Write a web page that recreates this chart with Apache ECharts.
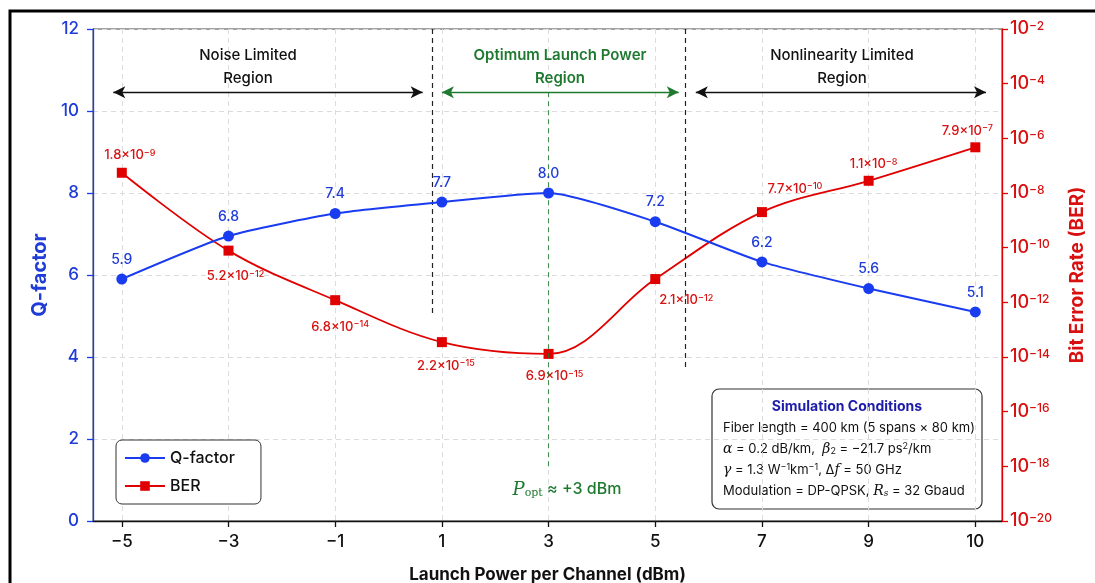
<!DOCTYPE html>
<html>
<head>
<meta charset="utf-8">
<script src="https://cdn.jsdelivr.net/npm/echarts@6/dist/echarts.min.js"></script>
<style>
  html, body { margin: 0; padding: 0; background: #fff; }
  #chart { width: 1095px; height: 583px; }
</style>
</head>
<body>
<div id="chart"></div>
<script>
// x axis: launch power per channel (dBm), drawn as evenly spaced ticks
const powerLabels = ['-5', '-3', '-1', '1', '3', '5', '7', '9', '10'];
// Q-factor: marker heights and the printed value labels
const qValues = [5.9, 6.95, 7.5, 7.78, 8.0, 7.3, 6.32, 5.67, 5.1];
const qLabels = ['5.9', '6.8', '7.4', '7.7', '8.0', '7.2', '6.2', '5.6', '5.1'];
// BER: marker heights (log axis) and the printed annotations (mantissa x 10^exp)
const berValues = [5.5e-8, 7.8e-11, 1.2e-12, 3.5e-14, 1.3e-14, 7.1e-12, 2.0e-9, 2.8e-8, 4.7e-7];
const berMant = ['1.8', '5.2', '6.8', '2.2', '6.9', '2.1', '7.7', '1.1', '7.9'];
const berExp = [-9, -12, -14, -15, -15, -12, -10, -8, -7];

const FONT = 'Inter, "Liberation Sans", sans-serif';
const BLUE = '#1a3cf0';
const BLUE_TXT = '#1f3bd8';
const RED = '#e00000';
const RED_TXT = '#d81010';
const GREEN = '#1f7a30';

const minus = s => String(s).replace('-', '\u2212');

// where each BER annotation sits relative to its marker
const berLabelPlace = [
  { position: 'top', distance: 6, offset: [8, 0] },
  { position: 'bottom', distance: 14, offset: [7, 0] },
  { position: 'bottom', distance: 15, offset: [5, 0] },
  { position: 'bottom', distance: 12, offset: [4, 0] },
  { position: 'bottom', distance: 11, offset: [6, 0] },
  { position: 'bottom', distance: 10, offset: [31, 0] },
  { position: 'top', distance: 12, offset: [33, 0] },
  { position: 'top', distance: 5, offset: [5, 0] },
  { position: 'top', distance: 5, offset: [-8, 0] }
];

const idx = powerLabels.map((_, i) => i);

const chart = echarts.init(document.getElementById('chart'));

const supRich = (size, color) => ({
  b: { fontSize: size, color: color, fontFamily: FONT, fontWeight: 500 },
  s: { fontSize: Math.round(size * 0.68), color: color, fontFamily: FONT, fontWeight: 500, verticalAlign: 'top' }
});

const option = {
  backgroundColor: '#fff',
  animation: false,
  textStyle: { fontFamily: FONT },
  grid: {
    left: 93, right: 93, top: 29, bottom: 62,
    outerBoundsMode: 'none', containLabel: false,
    show: true, borderColor: '#444', borderWidth: 1, backgroundColor: '#fff'
  },
  legend: {
    left: 116, top: 440, orient: 'vertical',
    itemWidth: 40, itemHeight: 12, itemGap: 12, itemTextGap: 12,
    padding: [10, 26, 10, 8],
    borderColor: '#333', borderWidth: 1, borderRadius: 6, backgroundColor: '#fff',
    textStyle: { fontSize: 16, color: '#111', fontFamily: FONT, fontWeight: 500 },
    data: ['Q-factor', 'BER'],
    z: 20
  },
  xAxis: {
    type: 'value',
    min: -0.27, max: 8.25,
    name: 'Launch Power per Channel (dBm)',
    nameLocation: 'middle', nameGap: 45,
    nameTextStyle: { fontSize: 17, fontWeight: 'bold', color: '#111', fontFamily: FONT },
    axisLine: { onZero: false, lineStyle: { color: '#111', width: 1.3 } },
    axisTick: { customValues: idx, length: 6, lineStyle: { color: '#111', width: 1.3 } },
    axisLabel: {
      customValues: idx, fontSize: 17, fontWeight: 500, color: '#111', margin: 12,
      formatter: v => minus(powerLabels[Math.round(v)])
    },
    splitLine: { show: true, lineStyle: { type: [5, 4], color: '#dcdcdc', width: 1 } }
  },
  yAxis: [
    {
      type: 'value', min: 0, max: 12, interval: 2,
      name: 'Q-factor', nameLocation: 'middle', nameGap: 43,
      nameTextStyle: { fontSize: 20, fontWeight: 'bold', color: BLUE_TXT, fontFamily: FONT },
      axisLine: { show: true, onZero: false, lineStyle: { color: BLUE, width: 1.3 } },
      axisTick: { show: true, length: 6, lineStyle: { color: BLUE, width: 1.3 } },
      axisLabel: { fontSize: 17, fontWeight: 500, color: BLUE_TXT, margin: 14 },
      splitLine: { show: true, lineStyle: { type: [5, 4], color: '#dcdcdc', width: 1 } }
    },
    {
      type: 'log', logBase: 10, min: 1e-20, max: 1e-2, interval: 2,
      name: 'Bit Error Rate (BER)', nameLocation: 'middle', nameGap: 66,
      nameRotate: 90,
      nameTextStyle: { fontSize: 19, fontWeight: 'bold', color: RED_TXT, fontFamily: FONT },
      axisLine: { show: true, onZero: false, lineStyle: { color: RED, width: 1.3 } },
      axisTick: { show: true, length: 6, lineStyle: { color: RED, width: 1.3 } },
      axisLabel: {
        margin: 8,
        formatter: v => '{b|10}{s|' + minus(Math.round(Math.log10(v))) + '}',
        rich: supRich(18, RED_TXT)
      },
      splitLine: { show: false }
    }
  ],
  series: [
    {
      name: 'Q-factor',
      type: 'line',
      yAxisIndex: 0,
      smooth: 0.2,
      symbol: 'circle', symbolSize: 11,
      z: 5,
      lineStyle: { color: BLUE, width: 2 },
      itemStyle: { color: BLUE },
      label: {
        show: true, position: 'top', distance: 7,
        fontSize: 14, fontWeight: 500, color: BLUE_TXT, fontFamily: FONT,
        formatter: p => qLabels[p.dataIndex]
      },
      data: qValues.map((q, i) => [i, q]),
      markLine: {
        silent: true, animation: false, symbol: 'none',
        label: { show: false },
        data: [
          // region boundaries
          [{ coord: [2.91, 12], lineStyle: { color: '#222', type: [5, 4], width: 1.2 } }, { coord: [2.91, 5.0] }],
          [{ coord: [5.28, 12], lineStyle: { color: '#222', type: [5, 4], width: 1.2 } }, { coord: [5.28, 3.73] }],
          // optimum launch power marker
          [{ coord: [4, 10.46], lineStyle: { color: GREEN, type: [5, 4], width: 1.1, opacity: 0.8 } }, { coord: [4, 1.24] }],
          // region arrows
          [{ coord: [-0.08, 10.46], symbol: 'arrow', symbolSize: [9, 12], lineStyle: { color: '#111', type: 'solid', width: 1.4 } },
           { coord: [2.82, 10.46], symbol: 'arrow', symbolSize: [9, 12] }],
          [{ coord: [3.0, 10.46], symbol: 'arrow', symbolSize: [9, 12], lineStyle: { color: GREEN, type: 'solid', width: 1.4 } },
           { coord: [5.22, 10.46], symbol: 'arrow', symbolSize: [9, 12] }],
          [{ coord: [5.38, 10.46], symbol: 'arrow', symbolSize: [9, 12], lineStyle: { color: '#111', type: 'solid', width: 1.4 } },
           { coord: [8.1, 10.46], symbol: 'arrow', symbolSize: [9, 12] }]
        ]
      }
    },
    {
      name: 'BER',
      type: 'line',
      yAxisIndex: 1,
      smooth: 0.35,
      symbol: 'rect', symbolSize: 10,
      z: 4,
      lineStyle: { color: RED, width: 1.8 },
      itemStyle: { color: RED },
      data: berValues.map((b, i) => ({
        value: [i, b],
        label: Object.assign({
          show: true,
          formatter: '{b|' + berMant[i] + '\u00d710}{s|' + minus(berExp[i]) + '}',
          rich: supRich(13, RED_TXT)
        }, berLabelPlace[i])
      }))
    }
  ],
  graphic: [
    {
      type: 'rect', z: -10, silent: true,
      shape: { x: 10, y: 11, width: 1110, height: 610 },
      style: { fill: 'none', stroke: '#000', lineWidth: 3 }
    },
    {
      type: 'text', x: 248, y: 67, z: 50, silent: true,
      style: { text: 'Noise Limited\nRegion', align: 'center', verticalAlign: 'middle',
        fontSize: 15, lineHeight: 23, fill: '#111', fontFamily: FONT, fontWeight: 500 }
    },
    {
      type: 'text', x: 560, y: 67, z: 50, silent: true,
      style: { text: 'Optimum Launch Power\nRegion', align: 'center', verticalAlign: 'middle',
        fontSize: 15, lineHeight: 23, fill: GREEN, fontFamily: FONT, fontWeight: 600 }
    },
    {
      type: 'text', x: 842, y: 67, z: 50, silent: true,
      style: { text: 'Nonlinearity Limited\nRegion', align: 'center', verticalAlign: 'middle',
        fontSize: 15, lineHeight: 23, fill: '#111', fontFamily: FONT, fontWeight: 500 }
    },
    {
      type: 'text', x: 567, y: 490, z: 50, silent: true,
      style: {
        text: '{p|P}{sub|opt}{t| \u2248 +3 dBm}', align: 'center', verticalAlign: 'middle',
        rich: {
          p: { fontSize: 18, fontStyle: 'italic', fontFamily: '"DejaVu Serif", serif', fill: GREEN, verticalAlign: 'top' },
          sub: { fontSize: 11, fontFamily: '"DejaVu Serif", serif', fill: GREEN, verticalAlign: 'bottom' },
          t: { fontSize: 16, fontWeight: 500, fontFamily: FONT, fill: GREEN, verticalAlign: 'top' }
        }
      }
    },
    {
      type: 'group', z: 60, silent: true,
      children: [
        {
          type: 'rect', shape: { x: 712, y: 389, width: 270, height: 120, r: 7 },
          style: { fill: '#fff', stroke: '#333', lineWidth: 1.2 }
        },
        {
          type: 'text', x: 847, y: 407,
          style: { text: 'Simulation Conditions', align: 'center', verticalAlign: 'middle',
            fontSize: 14, fontWeight: 'bold', fill: '#1c1ca8', fontFamily: FONT }
        },
        {
          type: 'text', x: 723, y: 428,
          style: { text: 'Fiber length = 400 km (5 spans \u00d7 80 km)', verticalAlign: 'middle',
            fontSize: 13, fill: '#111', fontFamily: FONT }
        },
        {
          type: 'text', x: 723, y: 449,
          style: {
            text: '{i|\u03b1}{t| = 0.2 dB/km,  }{i|\u03b2}{sub|2}{t| = \u221221.7 ps}{sup|2}{t|/km}',
            verticalAlign: 'middle',
            rich: {
              t: { fontSize: 13, fill: '#111', fontFamily: FONT },
              i: { fontSize: 14, fontStyle: 'italic', fill: '#111', fontFamily: '"DejaVu Serif", serif' },
              sub: { fontSize: 9, fill: '#111', fontFamily: FONT, verticalAlign: 'bottom' },
              sup: { fontSize: 9, fill: '#111', fontFamily: FONT, verticalAlign: 'top' }
            }
          }
        },
        {
          type: 'text', x: 723, y: 470,
          style: {
            text: '{i|\u03b3}{t| = 1.3 W}{sup|\u22121}{t|km}{sup|\u22121}{t|, \u0394}{i|f}{t| = 50 GHz}',
            verticalAlign: 'middle',
            rich: {
              t: { fontSize: 13, fill: '#111', fontFamily: FONT },
              i: { fontSize: 14, fontStyle: 'italic', fill: '#111', fontFamily: '"DejaVu Serif", serif' },
              sup: { fontSize: 9, fill: '#111', fontFamily: FONT, verticalAlign: 'top' }
            }
          }
        },
        {
          type: 'text', x: 723, y: 491,
          style: {
            text: '{t|Modulation = DP-QPSK, }{i|R}{sub|s}{t| = 32 Gbaud}',
            verticalAlign: 'middle',
            rich: {
              t: { fontSize: 13, fill: '#111', fontFamily: FONT },
              i: { fontSize: 14, fontStyle: 'italic', fill: '#111', fontFamily: '"DejaVu Serif", serif' },
              sub: { fontSize: 9, fontStyle: 'italic', fill: '#111', fontFamily: '"DejaVu Serif", serif', verticalAlign: 'bottom' }
            }
          }
        }
      ]
    }
  ]
};

chart.setOption(option);
</script>
</body>
</html>
